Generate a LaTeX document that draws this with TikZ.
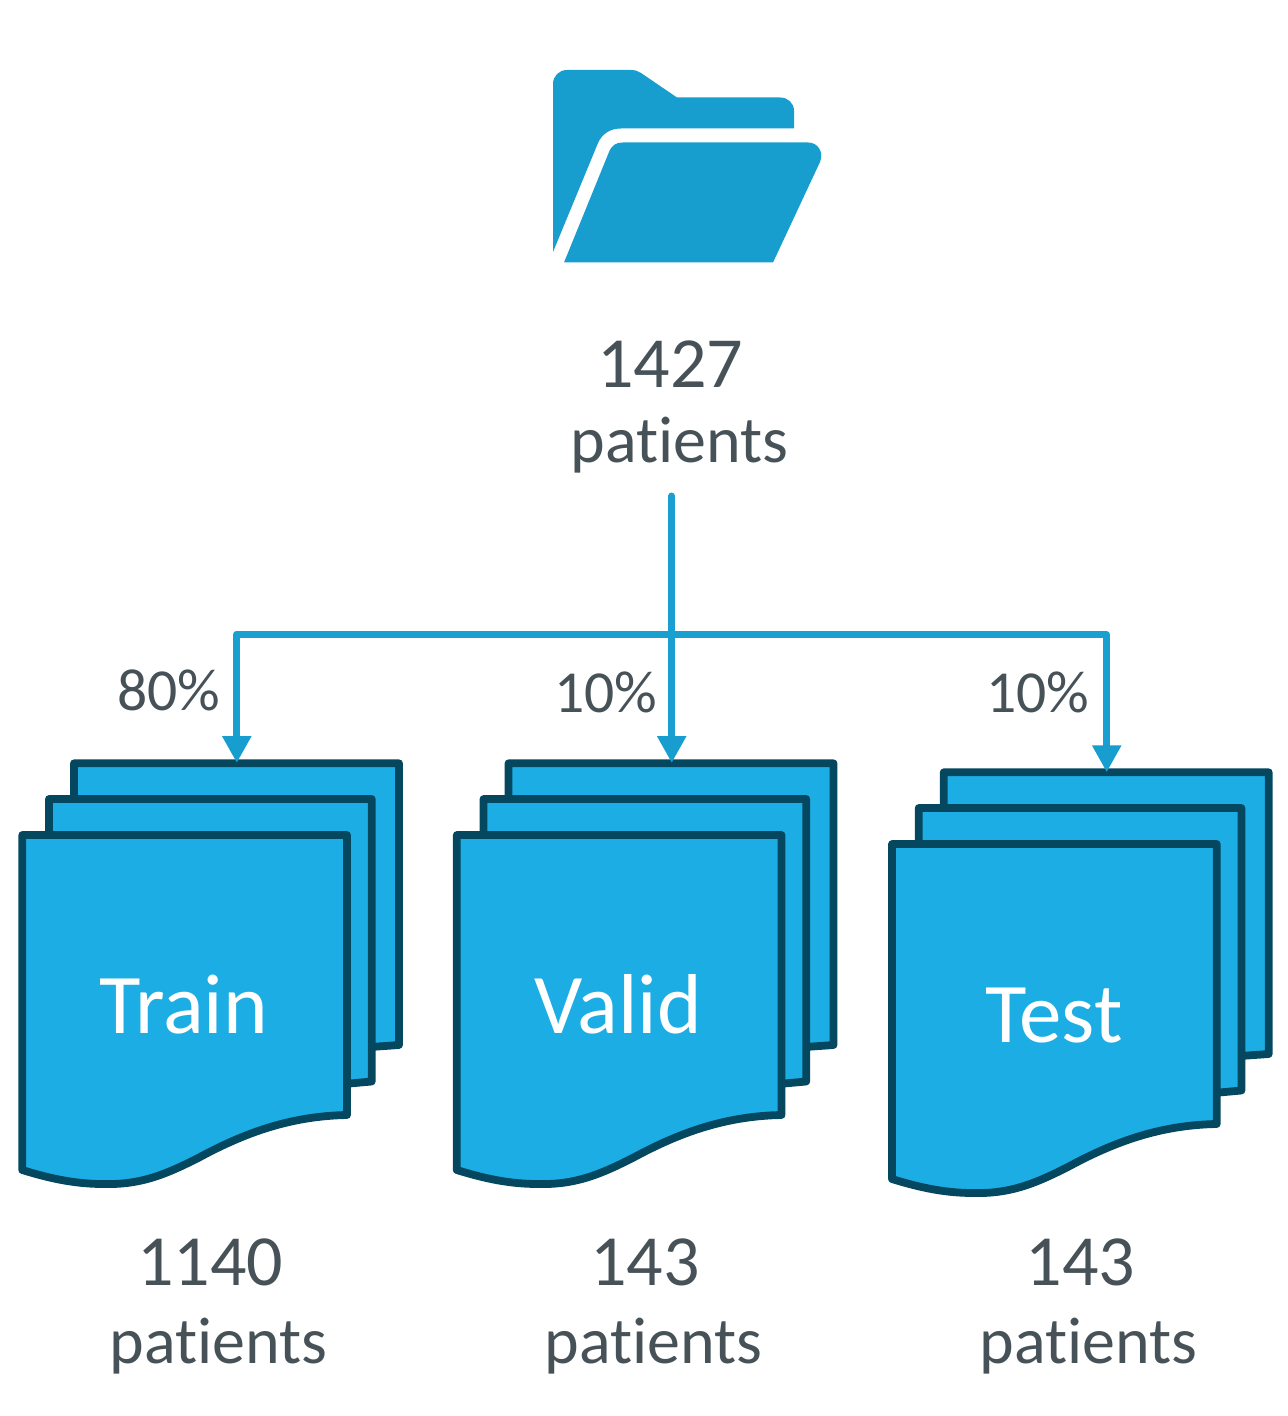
\documentclass[tikz,border=0pt]{standalone}
\usepackage{fontspec}
\setmainfont[Ligatures=NoCommon]{Carlito}
\usetikzlibrary{arrows.meta}
\definecolor{folderblue}{HTML}{189DCF}
\definecolor{lineblue}{HTML}{1A9FD1}
\definecolor{docfill}{HTML}{1DADE5}
\definecolor{docline}{HTML}{04475F}
\definecolor{txt}{HTML}{475258}
\tikzset{
  folder/.style={fill=folderblue,draw=none},
  docpage/.style={fill=docfill,draw=docline,line width=3.9pt,line join=round},
  link/.style={draw=lineblue,line width=3.5pt,line cap=round,line join=round},
  arrowlink/.style={link,-{Triangle[length=13.5pt,width=13.8pt,color=folderblue]}},
  count/.style={anchor=base,text=txt,font=\fontsize{36}{36}\selectfont,inner sep=0pt},
  word/.style={anchor=base,text=txt,font=\fontsize{33}{33}\selectfont,inner sep=0pt},
  pct/.style={anchor=base,text=txt,font=\fontsize{29.8}{29.8}\selectfont,inner sep=0pt},
  doclabel/.style={anchor=base,text=white,font=\fontsize{42.5}{42.5}\selectfont,inner sep=0pt},
}
\newcommand{\docstack}[2]{%
  \begin{scope}[shift={(#1,#2)}]
    \draw[docpage] (74,763.3) -- (399,763.3) -- (399,1045) -- (300,1052) -- (74,1052) -- cycle;
    \draw[docpage] (49,799) -- (371.7,799) -- (371.7,1081.5) -- (300,1088) -- (49,1088) -- cycle;
    \draw[docpage] (22.3,835) -- (347,835) -- (347,1115)
      .. controls (295,1116) and (250,1130) .. (200,1157)
      .. controls (165,1175) and (140,1185) .. (103,1184)
      .. controls (72,1184) and (45,1177) .. (22.3,1170) -- cycle;
  \end{scope}}
\begin{document}
\begin{tikzpicture}[x=0.5pt,y=-0.5pt]
\useasboundingbox (0,0) rectangle (1287,1416);
% folder
\fill[folder] (553,252) -- (553,84) .. controls (553,76) and (559,70) .. (567,70)
  -- (631,70) .. controls (635,70) and (638,71) .. (641,73) -- (677,97.5) -- (780,97.5)
  .. controls (788,97.5) and (794,103) .. (794,111) -- (794,128.5) -- (621,128.5)
  .. controls (610,128.5) and (602,134) .. (598,143) -- cycle;
\fill[folder] (564,262.5) -- (609,152) .. controls (612,145) and (616,142.5) .. (623,142.5)
  -- (808,142.5) .. controls (818,142.5) and (824,152) .. (820,162) -- (773,262.5) -- cycle;
\node[count] (total) at (670,388) {1427};
\node[word] (totalb) at (679.5,463) {patients};
% stacks
\docstack{0}{0}
\docstack{434.5}{0}
\docstack{869.7}{9}
\node[doclabel] (train) at (183.5,1033) {Train};
\node[doclabel] (valid) at (618,1033) {Valid};
\node[doclabel] (test) at (1054,1042) {Test};
% connectors
\coordinate (src) at (671.7,496);
\coordinate (barL) at (671.7,634);
\coordinate (barR) at (671.7,634.8);
\coordinate (trainCorner) at (236.8,634);
\coordinate (testCorner) at (1106.7,634.8);
\coordinate (trainTop) at (236.8,763);
\coordinate (validTop) at (671.7,763);
\coordinate (testTop) at (1106.7,772.3);
\draw[arrowlink] (src) -- (validTop);
\draw[arrowlink] (barL) -- (trainCorner) -- (trainTop);
\draw[arrowlink] (barR) -- (testCorner) -- (testTop);
\node[pct] (p1) at (169,710) {80\%};
\node[pct] (p2) at (605.5,712) {10\%};
\node[pct] (p3) at (1037.5,712) {10\%};
\node[count] (c1) at (210,1285) {1140};
\node[word] (c1b) at (218.5,1363) {patients};
\node[count] (c2) at (645,1285) {143};
\node[word] (c2b) at (653.5,1363) {patients};
\node[count] (c3) at (1080.5,1285) {143};
\node[word] (c3b) at (1088.5,1363) {patients};
\end{tikzpicture}
\end{document}
